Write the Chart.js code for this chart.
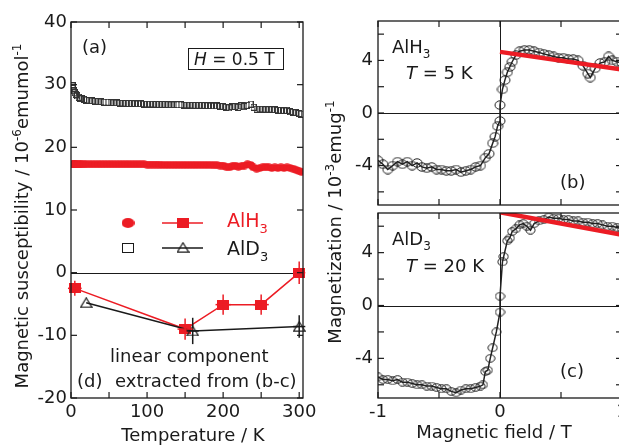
<!DOCTYPE html>
<html>
<head>
<meta charset="utf-8">
<script src="https://cdn.jsdelivr.net/npm/chart.js@4.4.1/dist/chart.umd.min.js"></script>
<style>
html, body { margin: 0; padding: 0; background: #fff; overflow: hidden; width: 619px; height: 446px; }
canvas { position: absolute; left: 0; top: 0; }
</style>
</head>
<body>
<canvas id="chartA" width="640" height="446"></canvas>
<canvas id="chartB" width="640" height="446"></canvas>
<canvas id="chartC" width="640" height="446"></canvas>
<script>
// ---- data: (a) susceptibility vs temperature, H = 0.5 T
var tempA = [2,3,4,5,6,8,10,12,14,17,20,24,28,32,36,40,44,48,52,56,60,64,68,72,76,80,84,88,92,96,
  100,104,108,112,116,120,124,128,132,136,140,144,148,152,156,160,164,168,172,176,180,184,188,192,196,
  200,204,208,212,216,220,224,228,232,236,240,244,248,252,256,260,264,268,272,276,280,284,288,292,296,300,303];
var chiAlD3 = [29.8,29.4,29.0,28.7,28.5,28.2,28.0,27.85,27.75,27.65,27.55,27.45,27.4,27.35,27.3,27.25,27.2,27.2,27.15,27.1,
  27.1,27.05,27.05,27.0,27.0,27.0,26.95,26.95,26.95,26.9,26.9,26.9,26.9,26.85,26.85,26.85,26.85,26.8,26.8,26.8,
  26.8,26.8,26.75,26.75,26.75,26.7,26.7,26.7,26.7,26.65,26.65,26.6,26.6,26.6,26.55,26.5,26.4,26.3,26.5,26.5,
  26.4,26.6,26.5,26.7,26.9,26.4,26.1,26.1,26.1,26.0,26.1,26.0,26.0,25.9,25.9,25.8,25.9,25.7,25.6,25.5,25.4,25.3];
var chiAlH3 = [17.3,17.3,17.3,17.3,17.3,17.3,17.3,17.3,17.3,17.3,17.3,17.3,17.3,17.3,17.3,17.3,17.3,17.3,17.3,17.3,
  17.3,17.3,17.3,17.3,17.3,17.3,17.3,17.3,17.3,17.3,17.25,17.25,17.25,17.25,17.25,17.2,17.2,17.2,17.2,17.2,
  17.2,17.2,17.2,17.2,17.2,17.2,17.2,17.2,17.2,17.2,17.2,17.2,17.15,17.15,17.1,17.1,16.9,16.8,17.0,17.1,
  16.9,17.0,17.1,17.3,17.2,16.8,16.6,16.7,16.8,16.9,16.8,16.7,16.8,16.7,16.8,16.7,16.8,16.7,16.6,16.4,16.2,16.1];

// ---- data: (d) linear component
var tempDH = [5, 150, 200, 250, 300];
var chiDH = [-2.5, -9.0, -5.1, -5.1, 0.0];
var errDHy = [1.2, 1.7, 1.6, 1.6, 1.8];
var errDHx = [9, 10, 10, 10, 8];
var tempDD = [20, 160, 300];
var chiDD = [-4.8, -9.3, -8.6];
var errDDy = [0, 2.1, 1.8];
var errDDx = [0, 8, 8];

// ---- data: (b) AlH3, T = 5 K
var fieldB = [-1.00,-0.96,-0.92,-0.88,-0.84,-0.80,-0.76,-0.72,-0.68,-0.64,-0.60,-0.56,-0.52,-0.48,-0.44,-0.40,
  -0.36,-0.32,-0.28,-0.24,-0.20,-0.16,-0.12,-0.09,-0.06,-0.04,-0.02,0.00,0.00,0.02,0.04,0.06,0.08,0.10,0.13,0.16,
  0.20,0.24,0.28,0.32,0.36,0.40,0.44,0.48,0.52,0.56,0.60,0.64,0.68,0.72,0.74,0.78,0.82,0.86,0.89,0.92,0.96,1.00];
var magB = [-3.6,-3.9,-4.3,-4.0,-3.7,-3.9,-3.7,-4.0,-3.8,-4.1,-4.2,-4.1,-4.3,-4.3,-4.4,-4.4,
  -4.3,-4.5,-4.4,-4.3,-4.1,-4.0,-3.4,-3.1,-2.3,-1.8,-1.0,-0.6,0.6,1.8,2.5,3.1,3.5,3.9,4.4,4.7,
  4.8,4.8,4.7,4.6,4.5,4.4,4.3,4.2,4.2,4.1,4.1,4.0,3.6,3.0,2.7,3.4,3.8,3.9,4.3,4.0,3.9,3.8];
var fitFieldB = [0, 1];
var fitMagB = [4.65, 3.3];

// ---- data: (c) AlD3, T = 20 K
var fieldC = [-1.00,-0.96,-0.92,-0.88,-0.84,-0.80,-0.76,-0.72,-0.68,-0.64,-0.60,-0.56,-0.52,-0.48,-0.44,-0.40,
  -0.36,-0.32,-0.28,-0.24,-0.20,-0.16,-0.14,-0.12,-0.10,-0.08,-0.06,-0.03,0.00,0.00,0.02,0.03,0.06,0.08,0.10,
  0.13,0.16,0.19,0.22,0.25,0.28,0.32,0.36,0.40,0.44,0.48,0.52,0.56,0.60,0.64,0.68,0.72,0.76,0.80,0.84,0.88,0.92,0.96,1.00];
var magC = [-5.4,-5.6,-5.6,-5.7,-5.6,-5.8,-5.8,-5.9,-6.0,-6.0,-6.1,-6.1,-6.2,-6.3,-6.3,-6.5,
  -6.6,-6.4,-6.3,-6.3,-6.2,-6.1,-6.0,-5.0,-4.9,-4.0,-3.2,-2.0,-0.5,0.7,3.3,3.7,4.9,5.1,5.6,
  5.8,6.1,6.2,6.0,5.7,6.2,6.4,6.5,6.7,6.6,6.6,6.5,6.5,6.4,6.4,6.3,6.3,6.2,6.2,6.1,6.0,6.0,5.9,5.8];
var fitFieldC = [0, 1];
var fitMagC = [7.05, 5.35];

// ---- ticks
var tempTicks = [0, 50, 100, 150, 200, 250, 300];
var tempLabels = [0, 100, 200, 300];
var chiTicks = [-20, -10, 0, 10, 20, 30, 40];
var fieldTicks = [-1, -0.5, 0, 0.5, 1];
var fieldLabels = [-1, 0, 1];
var magTicks = [-6, -4, -2, 0, 2, 4, 6];
var magLabels = [-4, 0, 4];

var RED = '#ec1c24';
var INK = '#1a1a1a';
var FONT = '"DejaVu Sans"';
Chart.defaults.font.family = FONT;
Chart.defaults.font.size = 18;
Chart.defaults.color = INK;

function pts(xs, ys) { return xs.map((v, i) => ({ x: v, y: ys[i] })) }

// marker images (markers are slightly wider than tall in the original)
function mark(w, h, draw) {
  var c = document.createElement('canvas');
  c.width = w; c.height = h;
  draw(c.getContext('2d'), w, h);
  return c;
}
var ringB = mark(12, 10, (g, w, h) => { g.beginPath(); g.ellipse(w/2, h/2, 5, 4.2, 0, 0, 2*Math.PI); g.strokeStyle = '#222'; g.lineWidth = 1; g.stroke() });
var ringC = mark(11, 9, (g, w, h) => { g.beginPath(); g.ellipse(w/2, h/2, 4.6, 3.8, 0, 0, 2*Math.PI); g.strokeStyle = '#222'; g.lineWidth = 1; g.stroke() });
var dotRed = mark(9, 8, (g, w, h) => { g.beginPath(); g.ellipse(w/2, h/2, 4.5, 3.8, 0, 0, 2*Math.PI); g.fillStyle = RED; g.fill() });
var boxSmall = mark(6, 7, (g) => { g.strokeStyle = '#333'; g.lineWidth = 1; g.strokeRect(0.5, 0.5, 5, 6) });
var sqRed = mark(12, 10, (g, w, h) => { g.fillStyle = RED; g.fillRect(0, 0, w, h) });
var triOpen = mark(13, 11, (g) => { g.beginPath(); g.moveTo(6.5, 0.8); g.lineTo(12.2, 10.2); g.lineTo(0.8, 10.2); g.closePath(); g.strokeStyle = INK; g.lineWidth = 1.2; g.stroke() });
var legDot = mark(13, 10, (g, w, h) => { g.beginPath(); g.ellipse(w/2, h/2, 6.5, 5, 0, 0, 2*Math.PI); g.fillStyle = RED; g.fill() });
var legBox = mark(12, 10, (g) => { g.strokeStyle = INK; g.lineWidth = 1; g.strokeRect(0.5, 0.5, 11, 9) });

function fontFor(style, size) {
  if (style === 'i') return 'italic ' + size + 'px ' + FONT;
  if (style === 'sub' || style === 'sup') return Math.round(size * 0.66) + 'px ' + FONT;
  return size + 'px ' + FONT;
}

// rich text: parts = [[text, style]]
function drawRich(ctx, t) {
  var size = t.size || 18;
  ctx.save();
  ctx.translate(t.x, t.y);
  if (t.rot) ctx.rotate(t.rot * Math.PI / 180);
  ctx.fillStyle = t.color || INK;
  ctx.textBaseline = 'alphabetic';
  ctx.textAlign = 'left';
  var w = 0;
  t.parts.forEach(p => { ctx.font = fontFor(p[1], size); w += ctx.measureText(p[0]).width });
  var cx = t.align === 'center' ? -w / 2 : 0;
  t.parts.forEach(p => {
    ctx.font = fontFor(p[1], size);
    var dy = p[1] === 'sub' ? size * 0.3 : p[1] === 'sup' ? -size * 0.4 : 0;
    ctx.fillText(p[0], cx, dy);
    cx += ctx.measureText(p[0]).width;
  });
  ctx.restore();
}

function seg(ctx, x1, y1, x2, y2) { ctx.beginPath(); ctx.moveTo(x1, y1); ctx.lineTo(x2, y2); ctx.stroke() }

// frame, inward ticks, zero lines, error bars and labels
function decor(cfg) {
  return {
    id: 'decor',
    beforeDatasetsDraw(chart) {
      var ctx = chart.ctx, a = chart.chartArea, x = chart.scales.x, y = chart.scales.y;
      ctx.save();
      ctx.strokeStyle = INK; ctx.lineWidth = 1;
      if (cfg.zeroY) { var py = Math.round(y.getPixelForValue(0)) + 0.5; seg(ctx, a.left, py, a.right, py) }
      if (cfg.zeroX) { var px = Math.round(x.getPixelForValue(0)) + 0.5; seg(ctx, px, a.top, px, a.bottom) }
      ctx.restore();
    },
    afterDatasetsDraw(chart) {
      var ctx = chart.ctx, a = chart.chartArea, x = chart.scales.x, y = chart.scales.y;
      ctx.save();
      // error bars
      chart.data.datasets.forEach((ds, i) => {
        if (!ds.errY) return;
        var meta = chart.getDatasetMeta(i);
        ctx.strokeStyle = ds.borderColor; ctx.lineWidth = 1.5;
        meta.data.forEach((el, j) => {
          var p = ds.data[j];
          if (ds.errY[j]) seg(ctx, el.x, y.getPixelForValue(p.y + ds.errY[j]), el.x, y.getPixelForValue(p.y - ds.errY[j]));
          if (ds.errX[j]) seg(ctx, x.getPixelForValue(p.x - ds.errX[j]), el.y, x.getPixelForValue(p.x + ds.errX[j]), el.y);
        });
      });
      // frame
      ctx.strokeStyle = INK; ctx.lineWidth = 1.3;
      ctx.strokeRect(a.left, a.top, a.right - a.left, a.bottom - a.top);
      ctx.lineWidth = 1.2;
      x.ticks.forEach(t => {
        var px = x.getPixelForValue(t.value);
        seg(ctx, px, a.bottom, px, a.bottom - 6);
        seg(ctx, px, a.top, px, a.top + 6);
      });
      y.ticks.forEach(t => {
        var py = y.getPixelForValue(t.value);
        seg(ctx, a.left, py, a.left + 6, py);
        seg(ctx, a.right, py, a.right - 6, py);
      });
      if (cfg.extra) cfg.extra(ctx);
      (cfg.texts || []).forEach(t => drawRich(ctx, t));
      ctx.restore();
    }
  };
}

function axis(min, max, ticks, labels, size, pad, showLabels) {
  return {
    type: 'linear', min: min, max: max,
    grid: { display: false, drawTicks: false },
    border: { display: false },
    afterBuildTicks: s => { s.ticks = ticks.map(v => ({ value: v })) },
    afterFit: s => { if (s.isHorizontal()) s.height = size; else s.width = size },
    ticks: {
      display: showLabels, autoSkip: false, maxRotation: 0, padding: pad, color: INK,
      font: { size: 18, family: FONT },
      callback: v => labels.includes(v) ? String(v) : ''
    }
  };
}

function baseOptions(padding, xScale, yScale) {
  return {
    responsive: false, animation: false, events: [],
    layout: { padding: padding, autoPadding: false },
    plugins: { legend: { display: false }, tooltip: { enabled: false } },
    scales: { x: xScale, y: yScale }
  };
}

// ---- (a) + (d)
new Chart(document.getElementById('chartA'), {
  type: 'scatter',
  data: {
    datasets: [
      { data: pts(tempDD, chiDD), showLine: true, borderColor: INK, borderWidth: 1.5,
        pointStyle: triOpen, pointRadius: 6, clip: false, errY: errDDy, errX: errDDx },
      { data: pts(tempDH, chiDH), showLine: true, borderColor: RED, borderWidth: 1.5,
        pointStyle: sqRed, pointRadius: 6, clip: false, errY: errDHy, errX: errDHx },
      { data: pts(tempA, chiAlH3), showLine: false, pointStyle: dotRed, pointRadius: 4 },
      { data: pts(tempA, chiAlD3), showLine: false, pointStyle: boxSmall, pointRadius: 3 }
    ]
  },
  options: baseOptions({ left: 0, right: 337, top: 22, bottom: 0 },
    axis(0, 305, tempTicks, tempLabels, 48, 4, true),
    axis(-20, 40, chiTicks, chiTicks, 71, 4, true)),
  plugins: [decor({
    zeroY: true,
    extra: ctx => {
      ctx.drawImage(legDot, 128 - 6.5, 223 - 5);
      ctx.strokeStyle = RED; ctx.lineWidth = 1.5; seg(ctx, 162, 223, 203, 223);
      ctx.drawImage(sqRed, 183 - 6, 223 - 5);
      ctx.drawImage(legBox, 128 - 6, 248 - 5);
      ctx.strokeStyle = INK; seg(ctx, 162, 248, 203, 248);
      ctx.drawImage(triOpen, 183 - 6.5, 248 - 6);
      ctx.lineWidth = 1; ctx.strokeRect(188.5, 48.5, 95, 21);
    },
    texts: [
      { x: 82, y: 53, parts: [['(a)', 'n']] },
      { x: 194, y: 65, size: 17, parts: [['H', 'i'], [' = 0.5 T', 'n']] },
      { x: 227, y: 227, size: 19, color: RED, parts: [['AlH', 'n'], ['3', 'sub']] },
      { x: 227, y: 255, size: 19, parts: [['AlD', 'n'], ['3', 'sub']] },
      { x: 110, y: 362, parts: [['linear component', 'n']] },
      { x: 115, y: 387, parts: [['extracted from (b-c)', 'n']] },
      { x: 77, y: 387, parts: [['(d)', 'n']] },
      { x: 193, y: 441, align: 'center', parts: [['Temperature / K', 'n']] },
      { x: 28, y: 216, rot: -90, align: 'center',
        parts: [['Magnetic susceptibility / 10', 'n'], ['-6', 'sup'], ['emumol', 'n'], ['-1', 'sup']] }
    ]
  })]
});

// ---- (b)
new Chart(document.getElementById('chartB'), {
  type: 'scatter',
  data: {
    datasets: [
      { data: pts(fitFieldB, fitMagB), showLine: true, borderColor: RED, borderWidth: 4.5, pointRadius: 0 },
      { data: pts(fieldB, magB), showLine: true, borderColor: '#222', borderWidth: 1.5,
        pointStyle: ringB, pointRadius: 5 }
    ]
  },
  options: baseOptions({ left: 0, right: 18, top: 21, bottom: 0 },
    axis(-1, 1, fieldTicks, fieldLabels, 241, 4, false),
    axis(-7, 7, magTicks, magLabels, 378, 5, true)),
  plugins: [decor({
    zeroX: true, zeroY: true,
    texts: [
      { x: 392, y: 53, parts: [['AlH', 'n'], ['3', 'sub']] },
      { x: 406, y: 79, parts: [['T', 'i'], [' = 5 K', 'n']] },
      { x: 560, y: 188, parts: [['(b)', 'n']] },
      { x: 341, y: 222, rot: -90, align: 'center',
        parts: [['Magnetization / 10', 'n'], ['-3', 'sup'], ['emug', 'n'], ['-1', 'sup']] }
    ]
  })]
});

// ---- (c)
new Chart(document.getElementById('chartC'), {
  type: 'scatter',
  data: {
    datasets: [
      { data: pts(fitFieldC, fitMagC), showLine: true, borderColor: RED, borderWidth: 4.5, pointRadius: 0 },
      { data: pts(fieldC, magC), showLine: true, borderColor: '#222', borderWidth: 1.5,
        pointStyle: ringC, pointRadius: 5 }
    ]
  },
  options: baseOptions({ left: 0, right: 18, top: 213, bottom: 0 },
    axis(-1, 1, fieldTicks, fieldLabels, 48, 4, true),
    axis(-7, 7, magTicks, magLabels, 378, 5, true)),
  plugins: [decor({
    zeroX: true, zeroY: true,
    texts: [
      { x: 392, y: 245, parts: [['AlD', 'n'], ['3', 'sub']] },
      { x: 406, y: 272, parts: [['T', 'i'], [' = 20 K', 'n']] },
      { x: 560, y: 377, parts: [['(c)', 'n']] },
      { x: 494, y: 438, align: 'center', parts: [['Magnetic field / T', 'n']] }
    ]
  })]
});
</script>
</body>
</html>
